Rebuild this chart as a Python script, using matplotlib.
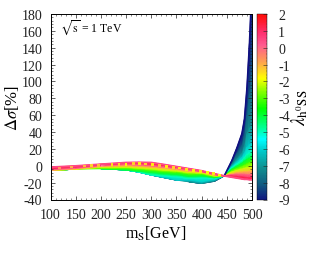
#!/usr/bin/env python3

import numpy as np
import matplotlib
matplotlib.use('Agg')
import matplotlib.pyplot as plt
from matplotlib.colors import LinearSegmentedColormap
from matplotlib.ticker import MultipleLocator

plt.rcParams['font.family'] = ['Liberation Serif', 'DejaVu Serif']
plt.rcParams['mathtext.fontset'] = 'stix'
plt.rcParams['axes.unicode_minus'] = False

m_s = [100, 150, 200, 250, 275, 300, 325, 350, 375, 400, 425, 445, 460, 470, 480, 485, 490, 495, 500]
lambdas = [-9, -8, -7, -6, -5, -4, -3, -2, -1, 0, 1, 2]

# delta sigma [%] along each lambda
# low lambdas sit on the lower edge where the band has no points for them
dsig = {
    -9: [-5.5, -4, -3.4, -5, -7.5, -11, -14, -17, -19, -21, -18.5, -12, 6, 21, 38, 55, 92, 145, 215],
    -8: [-5.5, -4, -3.4, -5, -7.5, -11, -14, -17, -19, -21, -18.5, -12, 3.5, 14, 24, 36, 60, 85, 110],
    -7: [-5.5, -4, -3.4, -5, -7.5, -11, -14, -17, -19, -21, -18, -12, 1, 8, 15, 23, 38, 45, 50],
    -6: [-5.5, -4, -3.4, -5, -7.5, -11, -14, -17, -17, -19, -16.5, -12, -1, 4.5, 10, 15, 22, 25, 28],
    -5: [-5.5, -4, -3.4, -5, -7.5, -11, -12, -13, -15, -14.5, -15, -12, -2.5, 2, 6, 9.5, 13, 15, 17],
    -4: [-5.5, -4, -3.4, -5, -6.5, -8, -9.5, -10.5, -12.5, -12, -14, -12, -4, -0.5, 3, 5.5, 7.5, 9, 10],
    -3: [-5.5, -4, -3.4, -3.2, -4.3, -5.5, -7, -8, -10, -10, -13, -12, -5.5, -3, -0.5, 1, 2.5, 4, 5],
    -2: [-5.5, -4, -1.8, -1.5, -2.5, -3.5, -5, -6, -8, -8.5, -12, -12, -7.5, -5.5, -4, -3, -2.5, -1.5, -1],
    -1: [-5.5, -3.7, -0.8, 0, -0.7, -1.5, -3, -4.5, -6.5, -7.5, -11, -12, -9.5, -8, -7.5, -7, -7, -6.5, -6],
    0: [-4.8, -3, 0, 1.5, 1, 0, -1.5, -3.3, -5, -7, -10.5, -12, -10.5, -10, -10, -10, -10.5, -10.5, -10],
    1: [-3.5, -1.6, 1, 2.8, 2.8, 1.8, 0, -2, -4, -6.5, -10, -12, -12, -12.5, -13, -13.5, -14, -14, -13.5],
    2: [-1.7, -0.2, 1.8, 3.8, 4, 3.8, 1.5, -1, -3.5, -6, -9.5, -12, -13.5, -14.5, -15.5, -16, -16, -16.5, -16.5],
}

# speckle along the top of the band
spot_x = [118, 142, 168, 182, 196, 222, 236, 250, 264, 276, 288, 302, 316, 330, 344, 356, 370, 384, 398, 412, 424, 436]
spot_y = [-2.6, -1.4, -0.4, 0.4, 0.6, 1.4, 1.6, 1.8, 2.6, 2.6, 2.0, 1.6, 0.6, -0.6, -1.6, -2.6, -4.0, -5.2, -6.6, -8.2, -9.6, -11.0]
spot_l = [-0.6, -0.8, -1.0, -1.2, -1.0, -1.4, -1.2, -1.6, -1.2, -1.5, -1.2, -1.5, -1.0, -1.5, -1.2, -1.5, -1.4, -1.5, -1.4, -1.6, -1.4, -1.6]

cbar_colors = [
    (0.00, '#101080'), (0.09, '#105a80'), (0.18, '#109090'), (0.27, '#00c8c8'),
    (0.336, '#00ffff'), (0.39, '#00ffa0'), (0.50, '#00ff00'), (0.59, '#80ff00'),
    (0.665, '#ffff00'), (0.755, '#ffa050'), (0.845, '#ff5a90'), (0.91, '#ff3070'),
    (1.00, '#ff1010'),
]


def main():
    cmap = LinearSegmentedColormap.from_list('band', cbar_colors, N=256)

    fig = plt.figure(figsize=(3.24, 2.55), dpi=100)
    ax = fig.add_axes([50.5 / 324, 1 - 200.5 / 255, 201.5 / 324, 185.5 / 255])
    cax = fig.add_axes([257 / 324, 1 - 200.5 / 255, 10 / 324, 185.5 / 255])

    X, L = np.meshgrid(m_s, lambdas)
    Y = np.array([dsig[l] for l in lambdas], dtype=float)
    mesh = ax.pcolormesh(X, Y, L, cmap=cmap, vmin=-9, vmax=2, shading='gouraud', zorder=1)

    # heavy edges of the scattered band
    ax.plot(m_s[11:], dsig[-9][11:], color=cmap(0.0), lw=1.2, zorder=2)
    ax.plot(m_s, dsig[2], color=cmap(0.87), lw=1.4, zorder=2)
    ax.scatter(spot_x, spot_y, c=spot_l, cmap=cmap, vmin=-9, vmax=2, s=4, marker='s',
               linewidths=0, zorder=3)

    ax.set_xlim(100, 500)
    ax.set_ylim(-40, 180)
    ax.xaxis.set_major_locator(MultipleLocator(50))
    ax.xaxis.set_minor_locator(MultipleLocator(10))
    ax.yaxis.set_major_locator(MultipleLocator(20))
    ax.yaxis.set_minor_locator(MultipleLocator(4))
    ax.tick_params(which='major', direction='in', top=True, right=True, length=3, width=0.5,
                   labelsize=10, colors='#222222')
    ax.tick_params(axis='x', which='major', pad=6)
    ax.tick_params(axis='y', which='major', pad=6)
    ax.tick_params(which='minor', direction='in', top=True, right=True, length=1.5, width=0.4,
                   colors='#222222')
    for s in ax.spines.values():
        s.set_linewidth(0.7)
    ax.set_xlabel(r'm$_{\mathrm{S}}$[GeV]', fontsize=11.5, labelpad=2, x=0.52)
    ax.set_ylabel(r'$\Delta\sigma$[%]', fontsize=12, labelpad=0)
    ax.text(0.045, 0.93, r'$\sqrt{\mathrm{s}}$ = 1 TeV', transform=ax.transAxes, fontsize=8.5,
            va='center')

    cb = fig.colorbar(mesh, cax=cax)
    cb.solids.set_edgecolor('face')
    cb.set_ticks(np.arange(-9, 3))
    cb.ax.yaxis.set_minor_locator(MultipleLocator(0.2))
    cb.ax.tick_params(which='major', direction='in', length=3, width=0.4, labelsize=10, pad=8,
                      colors='#222222')
    cb.ax.tick_params(which='minor', direction='in', length=1, width=0.3, colors='#444444')
    cb.outline.set_linewidth(0.3)
    cb.set_label(r'$\lambda_{\mathrm{h}^{0}\mathrm{SS}}$', fontsize=13.5, labelpad=0)

    fig.savefig('out.png', dpi=100)


if __name__ == '__main__':
    main()
